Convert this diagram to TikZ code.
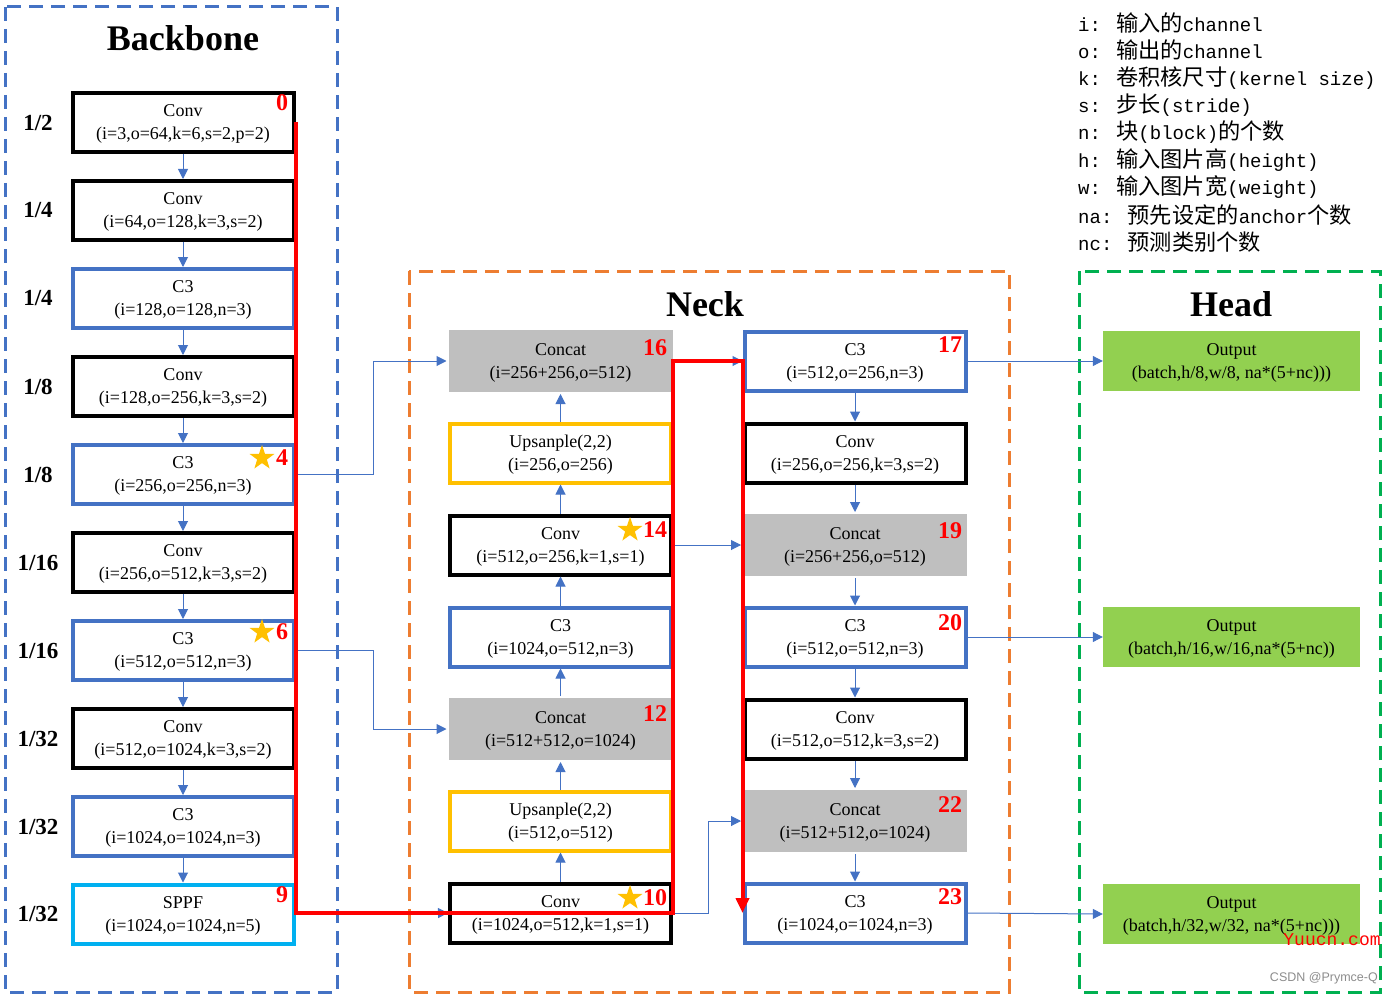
\documentclass[tikz,border=0pt]{standalone}
\usepackage{fontspec}
\setmainfont{Liberation Serif}
\newfontfamily\monof{Liberation Mono}
\newfontfamily\cjk[Scale=1.17]{Noto Sans CJK SC}
\newfontfamily\sansf{Liberation Sans}
\usetikzlibrary{arrows.meta,shapes.geometric,calc}
\definecolor{cblue}{HTML}{4472C4}
\definecolor{corange}{HTML}{ED7D31}
\definecolor{cgreenf}{HTML}{00B050}
\definecolor{clblue}{HTML}{00B0F0}
\definecolor{cyellow}{HTML}{FFC000}
\definecolor{cgray}{HTML}{BFBFBF}
\definecolor{cout}{HTML}{92D050}
\definecolor{cred}{HTML}{FF0000}
\begin{document}
\begin{tikzpicture}[x=1pt,y=-1pt,
  frame/.style={line width=3pt,dash pattern=on 14pt off 8pt},
  bb/.style={rectangle,draw,line width=4pt,minimum width=221pt,minimum height=59pt,inner sep=0pt,align=center,text depth=-1.5pt,font=\fontsize{18}{23}\selectfont},
  convbox/.style={bb,draw=black},
  cthree/.style={bb,draw=cblue},
  sppfbox/.style={bb,draw=clblue},
  upsbox/.style={bb,draw=cyellow},
  catbox/.style={bb,draw=none,fill=cgray,minimum width=224pt,minimum height=62pt},
  outbox/.style={rectangle,fill=cout,minimum width=257pt,minimum height=60pt,inner sep=0pt,align=center,text depth=-1.5pt,font=\fontsize{18}{23}\selectfont},
  scl/.style={font=\bfseries\fontsize{23}{23}\selectfont},
  num/.style={text=cred,font=\bfseries\fontsize{24}{24}\selectfont,inner sep=0pt},
  title/.style={font=\bfseries\fontsize{36}{36}\selectfont},
  starmark/.style={star,star points=5,star point ratio=2.55,fill=cyellow,minimum size=26pt,inner sep=0pt},
  arr/.style={draw=cblue,line width=1pt,-{Triangle[length=10pt,width=10pt]}},
  legend/.style={anchor=west,inner sep=0pt,font=\monof\fontsize{19}{19}\selectfont},
  redpath/.style={draw=cred,line width=4pt,-{Triangle[length=15pt,width=13pt]}}
]
\useasboundingbox (0,0) rectangle (1394,995);

% frames
\draw[frame,draw=cblue] (5,7) rectangle (337,992);
\draw[frame,draw=corange] (409,271) rectangle (1009,992);
\draw[frame,draw=cgreenf] (1079,271) rectangle (1380,992);

\node[title] (tb) at (183,38) {Backbone};
\node[title] (tn) at (705,304) {Neck};
\node[title] (th) at (1231,304) {Head};

% legend
\node[legend] (l1) at (1078,23) {i: {\cjk 输入的}channel};
\node[legend] (l2) at (1078,50) {o: {\cjk 输出的}channel};
\node[legend] (l3) at (1078,78) {k: {\cjk 卷积核尺寸}(kernel size)};
\node[legend] (l4) at (1078,105) {s: {\cjk 步长}(stride)};
\node[legend] (l5) at (1078,132) {n: {\cjk 块}(block){\cjk 的个数}};
\node[legend] (l6) at (1078,160) {h: {\cjk 输入图片高}(height)};
\node[legend] (l7) at (1078,187) {w: {\cjk 输入图片宽}(weight)};
\node[legend] (l8) at (1078,215) {na: {\cjk 预先设定的}anchor{\cjk 个数}};
\node[legend] (l9) at (1078,242) {nc: {\cjk 预测类别个数}};

% backbone
\node[convbox] (b0) at (183,122.5) {Conv\\(i=3,o=64,k=6,s=2,p=2)};
\node[convbox] (b1) at (183,210.5) {Conv\\(i=64,o=128,k=3,s=2)};
\node[cthree]  (b2) at (183,298.5) {C3\\(i=128,o=128,n=3)};
\node[convbox] (b3) at (183,386.5) {Conv\\(i=128,o=256,k=3,s=2)};
\node[cthree]  (b4) at (183,474.5) {C3\\(i=256,o=256,n=3)};
\node[convbox] (b5) at (183,562.5) {Conv\\(i=256,o=512,k=3,s=2)};
\node[cthree]  (b6) at (183,650.5) {C3\\(i=512,o=512,n=3)};
\node[convbox] (b7) at (183,738.5) {Conv\\(i=512,o=1024,k=3,s=2)};
\node[cthree]  (b8) at (183,826.5) {C3\\(i=1024,o=1024,n=3)};
\node[sppfbox] (b9) at (183,914) {SPPF\\(i=1024,o=1024,n=5)};

\node[scl] (s0) at (38,122.5) {1/2};
\node[scl] (s1) at (38,210.5) {1/4};
\node[scl] (s2) at (38,298.5) {1/4};
\node[scl] (s3) at (38,386.5) {1/8};
\node[scl] (s4) at (38,474.5) {1/8};
\node[scl] (s5) at (38,562.5) {1/16};
\node[scl] (s6) at (38,650.5) {1/16};
\node[scl] (s7) at (38,738.5) {1/32};
\node[scl] (s8) at (38,826.5) {1/32};
\node[scl] (s9) at (38,914) {1/32};

% neck left column
\node[catbox]  (n16) at (560.5,361) {Concat\\(i=256+256,o=512)};
\node[upsbox]  (u1)  at (560.5,453) {Upsanple(2,2)\\(i=256,o=256)};
\node[convbox] (n14) at (560.5,545) {Conv\\(i=512,o=256,k=1,s=1)};
\node[cthree]  (m13) at (560.5,637) {C3\\(i=1024,o=512,n=3)};
\node[catbox]  (n12) at (560.5,729) {Concat\\(i=512+512,o=1024)};
\node[upsbox]  (u2)  at (560.5,821) {Upsanple(2,2)\\(i=512,o=512)};
\node[convbox] (n10) at (560.5,913) {Conv\\(i=1024,o=512,k=1,s=1)};

% neck right column
\node[cthree]  (n17) at (855,361) {C3\\(i=512,o=256,n=3)};
\node[convbox] (r18) at (855,453) {Conv\\(i=256,o=256,k=3,s=2)};
\node[catbox]  (n19) at (855,545) {Concat\\(i=256+256,o=512)};
\node[cthree]  (n20) at (855,637) {C3\\(i=512,o=512,n=3)};
\node[convbox] (r21) at (855,729) {Conv\\(i=512,o=512,k=3,s=2)};
\node[catbox]  (n22) at (855,821) {Concat\\(i=512+512,o=1024)};
\node[cthree]  (n23) at (855,913) {C3\\(i=1024,o=1024,n=3)};

% head
\node[outbox] (o1) at (1231.5,361) {Output\\(batch,h/8,w/8, na*(5+nc)))};
\node[outbox] (o2) at (1231.5,637) {Output\\(batch,h/16,w/16,na*(5+nc))};
\node[outbox] (o3) at (1231.5,914) {Output\\(batch,h/32,w/32, na*(5+nc)))};

% connectors
\foreach \a/\b in {b0/b1,b1/b2,b2/b3,b3/b4,b4/b5,b5/b6,b6/b7,b7/b8,b8/b9}
  \draw[arr] (\a.south) -- (\b.north);
\foreach \a/\b in {n10/u2,u2/n12,n12/m13,m13/n14,n14/u1,u1/n16}
  \draw[arr] (\a.north) -- (\b.south);
\foreach \a/\b in {n17/r18,r18/n19,n19/n20,n20/r21,r21/n22,n22/n23}
  \draw[arr] (\a.south) -- (\b.north);
\coordinate (j1) at (373,0);
\coordinate (j2) at (708,0);
\draw[arr] (b4.east) -- (b4.east -| j1) |- (n16.west);
\draw[arr] (b6.east) -- (b6.east -| j1) |- (n12.west);
\draw[arr] (b9.east) -- (n10.west);
\draw[arr] (n16.east) -- (n17.west);
\draw[arr] (n14.east) -- (n19.west);
\draw[arr] (n10.east) -- (n10.east -| j2) |- (n22.west);
\draw[arr] (n17.east) -- (o1.west);
\draw[arr] (n20.east) -- (o2.west);
\draw[arr] (n23.east) -- (o3.west);

% red path
\draw[redpath] (b0.east) |- (n10.west) -- (n10.east) |- (n17.west) -- (n23.west);

% numbers and stars
\node[num] (k0) at (282,103) {0};
\node[num] (k4) at (282,458) {4};
\node[num] (k6) at (282,632) {6};
\node[num] (k9) at (282,895) {9};
\node[num] (k16) at (655,348) {16};
\node[num] (k14) at (655,530) {14};
\node[num] (k12) at (655,714) {12};
\node[num] (k10) at (655,898) {10};
\node[num] (k17) at (950,345) {17};
\node[num] (k19) at (950,531) {19};
\node[num] (k20) at (950,623) {20};
\node[num] (k22) at (950,805) {22};
\node[num] (k23) at (950,897) {23};
\node[starmark] (st4) at (262,458) {};
\node[starmark] (st6) at (262,632) {};
\node[starmark] (st14) at (630,530) {};
\node[starmark] (st10) at (630,898) {};

% watermarks
\node[text=cred,font=\monof\fontsize{18}{18}\selectfont,inner sep=0pt] (wm1) at (1332,940) {Yuucn.com};
\node[text=black!45,font=\sansf\fontsize{12.5}{13}\selectfont,anchor=east,inner sep=0pt] (wm2) at (1378,978) {CSDN @Prymce-Q};
\end{tikzpicture}
\end{document}
